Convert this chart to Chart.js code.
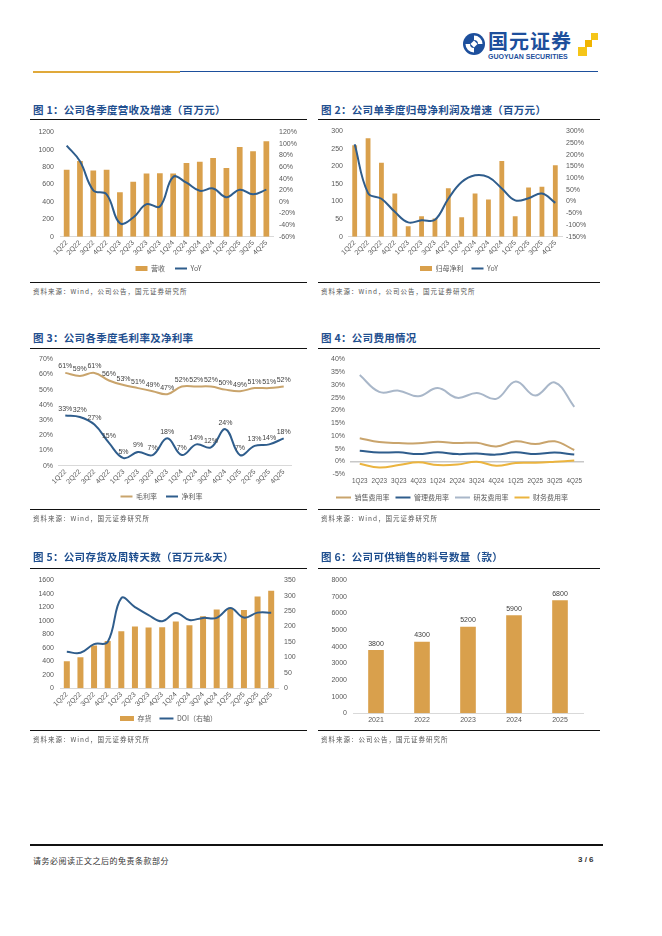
<!DOCTYPE html>
<html>
<head>
<meta charset="utf-8">
<script src="https://cdn.jsdelivr.net/npm/chart.js@4.4.1/dist/chart.umd.min.js"></script>
<style>
body { margin:0; width:662px; height:936px; background:#fff; position:relative; overflow:hidden;
       font-family:"Noto Sans CJK SC", sans-serif; }
.abs { position:absolute; }
.title { position:absolute; font-size:10.5px; font-weight:bold; color:#1f4f8f; letter-spacing:0.3px; white-space:nowrap; line-height:14px; }
.rule { position:absolute; height:1px; background:#111; }
.src { position:absolute; font-size:6.5px; color:#555; white-space:nowrap; letter-spacing:1px; line-height:9px; }
.chart { position:absolute; }
</style>
</head>
<body>

<!-- header -->
<svg class="abs" style="left:462px;top:32px" width="24" height="24" viewBox="0 0 24 24">
  <circle cx="12" cy="12" r="11" fill="#1d4f9c"/>
  <path d="M12 3.5 A8.5 8.5 0 0 1 20.5 12 L16 12 A4 4 0 0 0 12 8 Z" fill="#fff"/>
  <path d="M12 20.5 A8.5 8.5 0 0 1 3.5 12 L8 12 A4 4 0 0 0 12 16 Z" fill="#fff"/>
  <rect x="9.5" y="9.5" width="5" height="5" fill="#fff" transform="rotate(45 12 12)"/>
</svg>
<div class="abs" style="left:488px;top:30px;font-size:20px;font-weight:bold;color:#1d4f9c;line-height:22px;letter-spacing:1px">国元证券</div>
<div class="abs" style="left:488px;top:53px;font-size:7px;font-weight:bold;color:#1d4f9c;font-family:'Liberation Sans',sans-serif;line-height:7px">GUOYUAN SECURITIES</div>
<div class="abs" style="left:591px;top:33px;width:7px;height:7px;background:#f5c518"></div>
<div class="abs" style="left:585px;top:40px;width:7px;height:7px;background:#f0b400"></div>
<div class="abs" style="left:578px;top:47px;width:9px;height:9px;background:#f5c518"></div>
<div class="abs" style="left:33px;top:71px;width:147px;height:2px;background:#e0a93a"></div>
<div class="abs" style="left:180px;top:71px;width:418px;height:1px;background:#1d4f9c"></div>

<!-- row 1 -->
<div class="title" style="left:33px;top:103px">图 1：公司各季度营收及增速（百万元）</div>
<div class="rule" style="left:30px;top:119px;width:277px"></div>
<div class="chart" style="left:30px;top:122px;width:275px;height:160px"><canvas id="c1"></canvas></div>
<div class="rule" style="left:30px;top:282px;width:277px"></div>
<div class="src" style="left:33px;top:287px">资料来源：Wind，公司公告，国元证券研究所</div>

<div class="title" style="left:321px;top:103px">图 2：公司单季度归母净利润及增速（百万元）</div>
<div class="rule" style="left:318px;top:119px;width:282px"></div>
<div class="chart" style="left:318px;top:122px;width:282px;height:160px"><canvas id="c2"></canvas></div>
<div class="rule" style="left:318px;top:282px;width:282px"></div>
<div class="src" style="left:321px;top:287px">资料来源：Wind，公司公告，国元证券研究所</div>

<!-- row 2 -->
<div class="title" style="left:33px;top:331px">图 3：公司各季度毛利率及净利率</div>
<div class="rule" style="left:30px;top:348px;width:277px"></div>
<div class="chart" style="left:30px;top:350px;width:275px;height:160px"><canvas id="c3"></canvas></div>
<div class="rule" style="left:30px;top:509px;width:277px"></div>
<div class="src" style="left:33px;top:514px">资料来源：Wind，国元证券研究所</div>

<div class="title" style="left:321px;top:331px">图 4：公司费用情况</div>
<div class="rule" style="left:318px;top:348px;width:282px"></div>
<div class="chart" style="left:318px;top:350px;width:282px;height:161px"><canvas id="c4"></canvas></div>
<div class="rule" style="left:318px;top:509px;width:282px"></div>
<div class="src" style="left:321px;top:514px">资料来源：Wind，国元证券研究所</div>

<!-- row 3 -->
<div class="title" style="left:33px;top:550px">图 5：公司存货及周转天数（百万元&amp;天）</div>
<div class="rule" style="left:30px;top:568px;width:277px"></div>
<div class="chart" style="left:30px;top:570px;width:275px;height:162px"><canvas id="c5"></canvas></div>
<div class="rule" style="left:30px;top:730px;width:277px"></div>
<div class="src" style="left:33px;top:735px">资料来源：Wind，国元证券研究所</div>

<div class="title" style="left:321px;top:550px">图 6：公司可供销售的料号数量（款）</div>
<div class="rule" style="left:318px;top:568px;width:282px"></div>
<div class="chart" style="left:318px;top:570px;width:282px;height:158px"><canvas id="c6"></canvas></div>
<div class="rule" style="left:318px;top:730px;width:282px"></div>
<div class="src" style="left:321px;top:735px">资料来源：公司公告，国元证券研究所</div>

<!-- footer -->
<div class="abs" style="left:30px;top:844px;width:573px;height:2px;background:#111"></div>
<div class="abs" style="left:33px;top:855px;font-size:8px;color:#333;letter-spacing:0.5px">请务必阅读正文之后的免责条款部分</div>
<div class="abs" style="left:578px;top:855px;font-size:8px;font-weight:bold;color:#333;font-family:'Liberation Sans',sans-serif">3 / 6</div>

<script>
// ---- data ----
const quarters = ['1Q22','2Q22','3Q22','4Q22','1Q23','2Q23','3Q23','4Q23','1Q24','2Q24','3Q24','4Q24','1Q25','2Q25','3Q25','4Q25'];
const revenue = [770, 870, 760, 770, 510, 630, 725, 730, 725, 845, 860, 905, 790, 1030, 980, 1095];
const revenueYoY = [97, 70, 20, 13, -37, -27, -4, -8, 43, 33, 19, 23, 8, 21, 13, 21];
const netProfit = [260, 280, 210, 123, 30, 58, 52, 138, 55, 123, 106, 215, 58, 140, 142, 203];
const netProfitYoY = [244, 36, 12, -44, -89, -80, -78, 12, 83, 112, 104, 56, 5, 14, 34, -6];
const grossMargin = [61, 59, 61, 56, 53, 51, 49, 47, 52, 52, 52, 50, 49, 51, 51, 52];
const netMargin = [33, 32, 27, 15, 5, 9, 7, 18, 7, 14, 12, 24, 7, 13, 14, 18];

const feeQuarters = ['1Q23','2Q23','3Q23','4Q23','1Q24','2Q24','3Q24','4Q24','1Q25','2Q25','3Q25','4Q25'];
const sellingRate = [9.1, 7.6, 7.2, 7.1, 7.7, 7.2, 7.3, 5.9, 7.9, 6.8, 7.9, 4.5];
const adminRate = [4.2, 3.5, 3.6, 2.9, 3.6, 2.9, 3.1, 2.7, 3.6, 2.9, 3.5, 2.7];
const rdRate = [33.8, 27.2, 27.7, 25.5, 28.7, 24.9, 26.8, 24.5, 31.3, 25.8, 30.9, 21.4];
const financeRate = [-0.9, -2.3, -1.4, -0.3, -1.4, -1.2, -0.1, -1.7, -0.6, -0.5, -0.1, 0.4];

const inventory = [400, 460, 635, 700, 845, 915, 900, 905, 990, 935, 1065, 1165, 1175, 1160, 1360, 1445];
const doi = [118, 115, 143, 150, 292, 263, 237, 217, 244, 221, 228, 228, 260, 229, 245, 245];

const years = ['2021', '2022', '2023', '2024', '2025'];
const skuCount = [3800, 4300, 5200, 5900, 6800];

// ---- styles ----
const BAR = '#d9a04c';
const BLUE = '#2f5d8c';
const TAN = '#c9a46c';
const GREY_BLUE = '#a9b7c9';
const GOLD = '#ebb43f';
const TICK = '#595959';

Chart.defaults.font.family = '"Liberation Sans", "Noto Sans CJK SC", sans-serif';
Chart.defaults.font.size = 7;
Chart.defaults.color = TICK;
Chart.defaults.animation = false;
Chart.defaults.maintainAspectRatio = false;
Chart.defaults.responsive = true;

// draws value labels above points / bars
const valueLabels = {
    id: 'valueLabels',
    afterDatasetsDraw(chart, args, opts) {
        const ctx = chart.ctx;
        ctx.save();
        ctx.font = '7px "Liberation Sans", sans-serif';
        ctx.fillStyle = '#404040';
        ctx.textAlign = 'center';
        ctx.textBaseline = 'bottom';
        chart.data.datasets.forEach((ds, i) => {
            chart.getDatasetMeta(i).data.forEach((el, j) => {
                ctx.fillText(opts.format(ds.data[j]), el.x, el.y - opts.offset);
            });
        });
        ctx.restore();
    }
};

function fixWidth(w) { return s => { s.width = w; }; }
function fixHeight(h) { return s => { s.height = h; }; }

function legendOpts(padding, swatch) {
    return {
        position: 'bottom',
        labels: {
            usePointStyle: true,
            pointStyleWidth: swatch || 12,
            boxHeight: 5,
            padding: padding,
            color: TICK,
            font: { size: 7, family: '"Noto Sans CJK SC", "Liberation Sans", sans-serif' }
        }
    };
}

function xRotated(h) {
    return {
        grid: { display: false, drawTicks: false },
        border: { display: true, color: '#d9d9d9' },
        ticks: { minRotation: 45, maxRotation: 45, autoSkip: false, padding: 2 },
        afterFit: fixHeight(h)
    };
}

function yAxis(min, max, step, fmt, pos, width, pad) {
    return {
        position: pos,
        min: min, max: max,
        grid: { display: false, drawTicks: false },
        border: { display: false },
        ticks: { stepSize: step, padding: pad, autoSkip: false, callback: fmt },
        afterFit: fixWidth(width)
    };
}
const pct = v => v + '%';

// chart 1
new Chart(document.getElementById('c1'), {
    data: {
        labels: quarters,
        datasets: [
            { type: 'line', label: 'YoY', data: revenueYoY, yAxisID: 'y1', borderColor: BLUE, backgroundColor: BLUE,
              borderWidth: 2, pointRadius: 0, tension: 0.4, pointStyle: 'line', order: 0 },
            { type: 'bar', label: '营收', data: revenue, yAxisID: 'y', backgroundColor: BAR,
              barPercentage: 0.43, categoryPercentage: 1, pointStyle: 'rect', order: 1 }
        ]
    },
    options: {
        layout: { padding: { left: 2, right: 0, top: 8, bottom: 0 } },
        scales: {
            x: xRotated(18.3),
            y: yAxis(0, 1200, 200, v => v, 'left', 28, 6),
            y1: yAxis(-60, 120, 20, pct, 'right', 32, 6)
        },
        plugins: { legend: Object.assign(legendOpts(10), { reverse: true }), tooltip: { enabled: false } }
    }
});

// chart 2
new Chart(document.getElementById('c2'), {
    data: {
        labels: quarters,
        datasets: [
            { type: 'line', label: 'YoY', data: netProfitYoY, yAxisID: 'y1', borderColor: BLUE, backgroundColor: BLUE,
              borderWidth: 2, pointRadius: 0, tension: 0.4, pointStyle: 'line', order: 0 },
            { type: 'bar', label: '归母净利', data: netProfit, yAxisID: 'y', backgroundColor: BAR,
              barPercentage: 0.36, categoryPercentage: 1, pointStyle: 'rect', order: 1 }
        ]
    },
    options: {
        layout: { padding: { left: 2, right: 2, top: 8, bottom: 0 } },
        scales: {
            x: xRotated(20.3),
            y: yAxis(0, 300, 50, v => v, 'left', 28, 5),
            y1: yAxis(-150, 300, 50, pct, 'right', 36, 4)
        },
        plugins: { legend: Object.assign(legendOpts(8), { reverse: true }), tooltip: { enabled: false } }
    }
});

// chart 3
new Chart(document.getElementById('c3'), {
    type: 'line',
    data: {
        labels: quarters,
        datasets: [
            { label: '毛利率', data: grossMargin, borderColor: TAN, backgroundColor: TAN, borderWidth: 2,
              pointRadius: 0, tension: 0.4, pointStyle: 'line' },
            { label: '净利率', data: netMargin, borderColor: BLUE, backgroundColor: BLUE, borderWidth: 2,
              pointRadius: 0, tension: 0.4, pointStyle: 'line' }
        ]
    },
    plugins: [valueLabels],
    options: {
        layout: { padding: { left: 2, right: 14, top: 7.7, bottom: 0 } },
        scales: {
            x: Object.assign(xRotated(18.3), { offset: true }),
            y: yAxis(0, 70, 10, pct, 'left', 26, 5)
        },
        plugins: {
            legend: legendOpts(9),
            tooltip: { enabled: false },
            valueLabels: { format: v => v + '%', offset: 3 }
        }
    }
});

// chart 4
new Chart(document.getElementById('c4'), {
    type: 'line',
    data: {
        labels: feeQuarters,
        datasets: [
            { label: '销售费用率', data: sellingRate, borderColor: TAN, backgroundColor: TAN },
            { label: '管理费用率', data: adminRate, borderColor: BLUE, backgroundColor: BLUE },
            { label: '研发费用率', data: rdRate, borderColor: GREY_BLUE, backgroundColor: GREY_BLUE },
            { label: '财务费用率', data: financeRate, borderColor: GOLD, backgroundColor: GOLD }
        ].map(d => Object.assign(d, { borderWidth: 2, pointRadius: 0, tension: 0.4, pointStyle: 'line' }))
    },
    options: {
        layout: { padding: { left: 2, right: 16, top: 7.3, bottom: 0 } },
        scales: {
            x: { offset: true, grid: { display: false, drawTicks: false }, border: { display: false },
                 ticks: { maxRotation: 0, autoSkip: false, padding: 3, font: { size: 6.3 } }, afterFit: fixHeight(13.7) },
            y: { min: -5, max: 40, position: 'left',
                 grid: { drawTicks: false, color: c => c.tick.value === 0 ? '#c8c8c8' : 'transparent', lineWidth: 1.5 },
                 border: { display: false },
                 ticks: { stepSize: 5, padding: 5, autoSkip: false, callback: pct },
                 afterFit: fixWidth(30) }
        },
        plugins: { legend: legendOpts(6, 15), tooltip: { enabled: false } }
    }
});

// chart 5
new Chart(document.getElementById('c5'), {
    data: {
        labels: quarters,
        datasets: [
            { type: 'line', label: 'DOI（右轴）', data: doi, yAxisID: 'y1', borderColor: BLUE, backgroundColor: BLUE,
              borderWidth: 2, pointRadius: 0, tension: 0.4, pointStyle: 'line', order: 0 },
            { type: 'bar', label: '存货', data: inventory, yAxisID: 'y', backgroundColor: BAR,
              barPercentage: 0.44, categoryPercentage: 1, pointStyle: 'rect', order: 1 }
        ]
    },
    options: {
        layout: { padding: { left: 2, right: 0, top: 9.3, bottom: 0 } },
        scales: {
            x: xRotated(18.7),
            y: yAxis(0, 1600, 200, v => v, 'left', 28, 6),
            y1: yAxis(0, 350, 50, v => v, 'right', 27, 6)
        },
        plugins: { legend: Object.assign(legendOpts(8, 14), { reverse: true }), tooltip: { enabled: false } }
    }
});

// chart 6
new Chart(document.getElementById('c6'), {
    type: 'bar',
    data: {
        labels: years,
        datasets: [
            { label: '料号数量', data: skuCount, backgroundColor: BAR, barPercentage: 0.34, categoryPercentage: 1 }
        ]
    },
    plugins: [valueLabels],
    options: {
        layout: { padding: { left: 2, right: 17, top: 9.3, bottom: 0 } },
        scales: {
            x: { grid: { display: false, drawTicks: false }, border: { display: true, color: '#d9d9d9' },
                 ticks: { padding: 3 }, afterFit: fixHeight(14.7) },
            y: yAxis(0, 8000, 1000, v => v, 'left', 33, 6)
        },
        plugins: {
            legend: { display: false },
            tooltip: { enabled: false },
            valueLabels: { format: v => String(v), offset: 3 }
        }
    }
});
</script>
</body>
</html>
